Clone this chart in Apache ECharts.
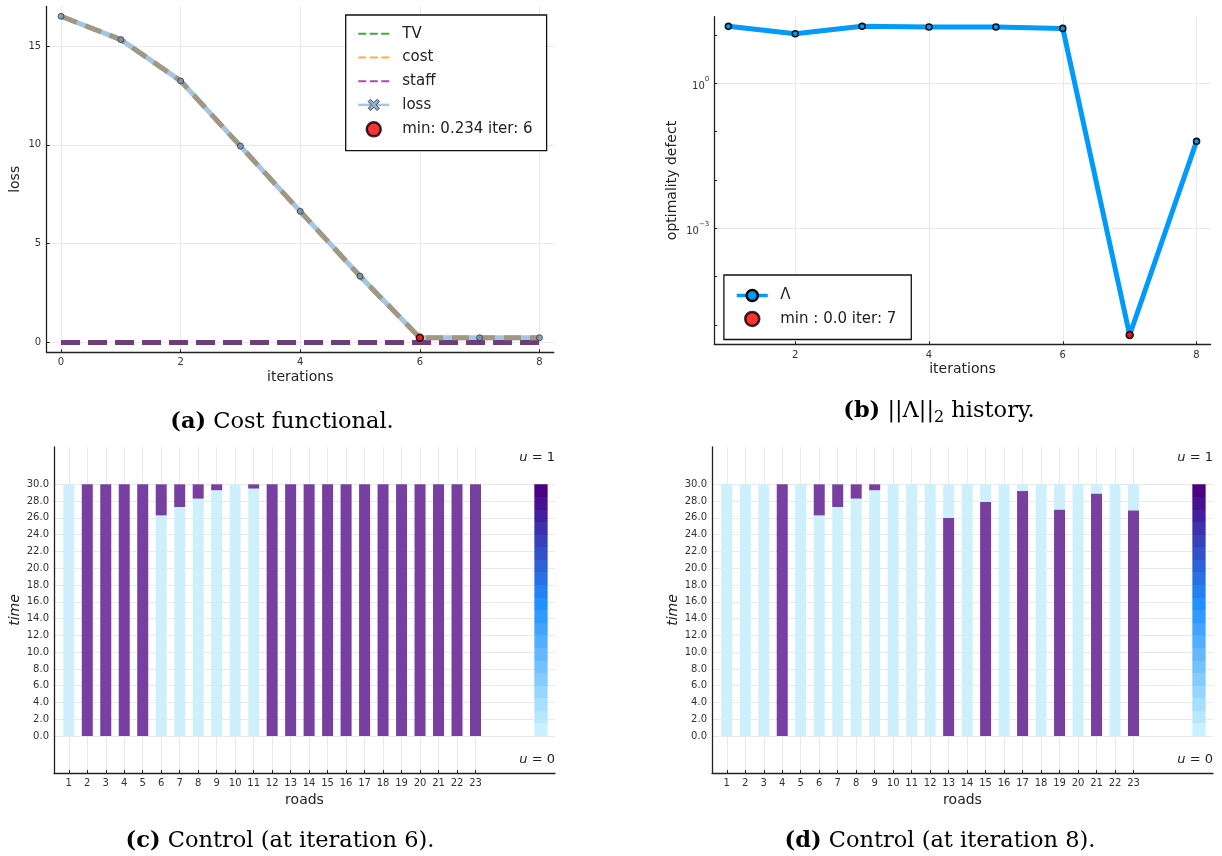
<!DOCTYPE html>
<html><head><meta charset="utf-8">
<script src="https://cdn.jsdelivr.net/npm/echarts@6/dist/echarts.min.js"></script>
<style>html,body{margin:0;padding:0;background:#fff}#c{width:1222px;height:856px}</style>
</head><body><div id="c"></div>
<script>
// ---------- (a) cost functional ----------
const iterA = [0, 1, 2, 3, 4, 5, 6, 7, 8];
const lossA = [16.50, 15.32, 13.23, 9.93, 6.63, 3.35, 0.234, 0.236, 0.236];
const costA = [16.50, 15.32, 13.23, 9.93, 6.63, 3.35, 0.234, 0.236, 0.236];
const tvA = [0, 0, 0, 0, 0, 0, 0, 0, 0];
const staffA = [0, 0, 0, 0, 0, 0, 0, 0, 0];
const minA = [6, 0.234];
const xTicksA = [0, 2, 4, 6, 8];
const yTicksA = [0, 5, 10, 15];

// ---------- (b) ||Lambda|| history ----------
const iterB = [1, 2, 3, 4, 5, 6, 7, 8];
const lambdaB = [15.1, 10.6, 15.1, 14.6, 14.6, 13.7, 6.2e-6, 0.063];
const minB = [7, 6.2e-6];
const xTicksB = [2, 4, 6, 8];
const yLabelTicksB = [1, 0.001];
const yTicksB = [1e-5, 1e-4, 1e-3, 1e-2, 1e-1, 1, 10];

// ---------- (c)/(d) controls: durations of u=0 (first), u=1, u=0 (after) ----------
const roads = [1,2,3,4,5,6,7,8,9,10,11,12,13,14,15,16,17,18,19,20,21,22,23];
const timeTicks = [0,2,4,6,8,10,12,14,16,18,20,22,24,26,28,30];
// iteration 6
const offLowC  = [30,0,0,0,0,26.3,27.3,28.3,29.3,30,29.5,0,0,0,0,0,0,0,0,0,0,0,0];
const onC      = [0,30,30,30,30,3.7,2.7,1.7,0.7,0,0.5,30,30,30,30,30,30,30,30,30,30,30,30];
const offHighC = [0,0,0,0,0,0,0,0,0,0,0,0,0,0,0,0,0,0,0,0,0,0,0];
// iteration 8
const offLowD  = [30,30,30,0,30,26.3,27.3,28.3,29.3,30,30,30,0,30,0,30,0,30,0,30,0,30,0];
const onD      = [0,0,0,30,0,3.7,2.7,1.7,0.7,0,0,0,26.0,0,27.9,0,29.2,0,27.0,0,28.9,0,26.9];
const offHighD = [0,0,0,0,0,0,0,0,0,0,0,0,4.0,0,2.1,0,0.8,0,3.0,0,1.1,0,3.1];
const colorbar = [[26.48, 30]];

// ---------- styles ----------
const FF = 'DejaVu Sans';
const AX = '#222', TXT = '#333', GRID = '#e9e9e9';
const LIGHT = '#CEF0FC', PURPLE = '#763FA0';

function pairs(xs, ys) { return xs.map((x, i) => [x, ys[i]]); }
// value first so that stacking is done on the time dimension
function vpairs(xs, ys) { return xs.map((x, i) => [ys[i], x]); }

function hexToRgb(h) { return [parseInt(h.slice(1,3),16), parseInt(h.slice(3,5),16), parseInt(h.slice(5,7),16)]; }
const cbAnchors = [[0, '#C8F2FF'], [0.53, '#1E90FF'], [1, '#4B0082']];
function cbColor(t) {
  for (let i = 0; i < cbAnchors.length - 1; i++) {
    const [t0, c0] = cbAnchors[i], [t1, c1] = cbAnchors[i+1];
    if (t <= t1) {
      const f = (t - t0) / (t1 - t0), a = hexToRgb(c0), b = hexToRgb(c1);
      return 'rgb(' + a.map((v, k) => Math.round(v + (b[k] - v) * f)).join(',') + ')';
    }
  }
  return cbAnchors[cbAnchors.length-1][1];
}
const cbStops = [];
const NSTEP = 20;
for (let k = 0; k < NSTEP; k++) {
  const col = cbColor(k / (NSTEP - 1));
  cbStops.push({offset: k / NSTEP, color: col}, {offset: (k + 1) / NSTEP, color: col});
}

function xAxisCfg(grid, min, max, ticks, name, gap, margin) {
  return {
    type: 'value', gridIndex: grid, min: min, max: max, name: name,
    nameLocation: 'middle', nameGap: gap,
    nameTextStyle: {fontFamily: FF, fontSize: 14, color: AX},
    axisLine: {show: true, onZero: false, lineStyle: {color: AX, width: 1.3}},
    axisTick: {show: true, inside: true, length: 3, customValues: ticks, lineStyle: {color: AX}},
    axisLabel: {customValues: ticks, fontFamily: FF, fontSize: 10, color: TXT, margin: margin},
    splitLine: {show: true, lineStyle: {color: GRID, width: 1}}
  };
}
function timeAxis(grid) {
  return {
    type: 'value', gridIndex: grid, min: -4.4, max: 34.45, name: 'time', nameLocation: 'middle', nameGap: 32,
    nameTextStyle: {fontFamily: FF, fontSize: 14, color: AX, fontStyle: 'italic'},
    axisLine: {show: true, onZero: false, lineStyle: {color: AX, width: 1.3}},
    axisTick: {show: false, customValues: timeTicks},
    axisLabel: {customValues: timeTicks, fontFamily: FF, fontSize: 10, color: TXT, margin: 5,
      formatter: v => Number(v).toFixed(1)},
    splitLine: {show: true, lineStyle: {color: GRID, width: 1}}
  };
}
function barSeries(name, xi, yi, ys, color, stack) {
  return {name: name, type: 'bar', xAxisIndex: xi, yAxisIndex: yi, data: vpairs(roads, ys),
    encode: {x: 1, y: 0}, stack: stack,
    barWidth: 11, barGap: '-100%', itemStyle: {color: color}};
}

const dashIcon = 'path://M0,0h8v2h-8zM11.5,0h8v2h-8zM23,0h8v2h-8z';
const crossSym = 'path://M2,0L5,3L8,0L10,2L7,5L10,8L8,10L5,7L2,10L0,8L3,5L0,2Z';

const option = {
  animation: false,
  backgroundColor: '#fff',
  textStyle: {fontFamily: FF},
  grid: [
    {left: 46.7, top: 6.4, width: 507.1, height: 345.9, outerBoundsMode: 'none'},
    {left: 714.3, top: 16.7, width: 496.3, height: 327.6, outerBoundsMode: 'none'},
    {left: 54, top: 447, width: 501, height: 326, outerBoundsMode: 'none'},
    {left: 712, top: 447, width: 501, height: 326, outerBoundsMode: 'none'}
  ],
  xAxis: [
    xAxisCfg(0, -0.24, 8.24, xTicksA, 'iterations', 18, 5),
    xAxisCfg(1, 0.79, 8.21, xTicksB, 'iterations', 18.5, 6),
    xAxisCfg(2, 0.2, 27.3, roads, 'roads', 20, 5),
    xAxisCfg(3, 0.2, 27.3, roads, 'roads', 20, 5)
  ],
  yAxis: [
    {
      type: 'value', gridIndex: 0, min: -0.5, max: 17, name: 'loss', nameLocation: 'middle', nameGap: 24.5,
      nameTextStyle: {fontFamily: FF, fontSize: 14, color: AX},
      axisLine: {show: true, onZero: false, lineStyle: {color: AX, width: 1.3}},
      axisTick: {show: true, inside: true, length: 3, customValues: yTicksA, lineStyle: {color: AX}},
      axisLabel: {customValues: yTicksA, fontFamily: FF, fontSize: 10, color: TXT, margin: 5.5},
      splitLine: {show: true, lineStyle: {color: GRID, width: 1}}
    },
    {
      type: 'log', logBase: 10, gridIndex: 1, min: 3.98e-6, max: 23.9, name: 'optimality defect',
      nameLocation: 'middle', nameGap: 35,
      nameTextStyle: {fontFamily: FF, fontSize: 14, color: AX},
      axisLine: {show: true, onZero: false, lineStyle: {color: AX, width: 1.3}},
      axisTick: {show: true, inside: true, length: 3, customValues: yTicksB, lineStyle: {color: AX}},
      axisLabel: {
        customValues: yLabelTicksB, margin: 5,
        formatter: function (v) {
          const e = Math.round(Math.log10(v));
          return '{b|10}{s|' + (e < 0 ? '\u2212' + (-e) : e) + '}';
        },
        rich: {
          b: {fontFamily: FF, fontSize: 10, color: TXT, lineHeight: 16, verticalAlign: 'bottom'},
          s: {fontFamily: FF, fontSize: 7, color: TXT, lineHeight: 9, verticalAlign: 'top'}
        }
      },
      splitLine: {show: false}
    },
    {
      type: 'log', logBase: 10, gridIndex: 1, min: 3.98e-6, max: 23.9,
      axisLine: {show: false, onZero: false},
      axisTick: {show: false, customValues: yLabelTicksB},
      axisLabel: {show: false, customValues: yLabelTicksB},
      splitLine: {show: true, lineStyle: {color: GRID, width: 1}}
    },
    timeAxis(2),
    timeAxis(3)
  ],
  legend: [
    {
      orient: 'vertical', left: 345.7, top: 15, itemWidth: 31, itemHeight: 14, itemGap: 8.7,
      padding: [11.3, 14, 13, 11.3], borderColor: '#111', borderWidth: 1.3, backgroundColor: '#fff',
      selectedMode: false,
      textStyle: {fontFamily: FF, fontSize: 15, color: '#222', lineHeight: 14, padding: [0, 0, 0, 8]},
      data: [
        {name: 'TV', icon: dashIcon, itemStyle: {color: '#44A845', borderWidth: 0}},
        {name: 'cost', icon: dashIcon, itemStyle: {color: '#FFAE55', borderWidth: 0}},
        {name: 'staff', icon: dashIcon, itemStyle: {color: '#A350A9', borderWidth: 0}},
        {name: 'loss', itemStyle: {color: '#93AFCB', borderColor: '#3a4a5a', borderWidth: 1},
          lineStyle: {color: '#A6C6E0', width: 2.5, type: 'solid'}},
        {name: 'min: 0.234 iter: 6', icon: 'circle', itemStyle: {color: '#ff0000', borderColor: '#000', borderWidth: 2.5}}
      ]
    },
    {
      orient: 'vertical', left: 723.9, top: 275, itemWidth: 31, itemHeight: 14, itemGap: 7.7,
      padding: [13, 15, 12.3, 11.1], borderColor: '#111', borderWidth: 1.3, backgroundColor: '#fff',
      selectedMode: false,
      textStyle: {fontFamily: FF, fontSize: 15, color: '#222', lineHeight: 14, padding: [0, 0, 0, 7.5]},
      data: [
        {name: '\u039B', itemStyle: {color: '#009AFA', borderColor: '#000', borderWidth: 2.5},
          lineStyle: {color: '#009AFA', width: 3.5}},
        {name: 'min : 0.0 iter: 7', icon: 'circle', itemStyle: {color: '#ff0000', borderColor: '#000', borderWidth: 2.5}}
      ]
    }
  ],
  series: [
    // (a)
    {name: 'TV', type: 'line', xAxisIndex: 0, yAxisIndex: 0, data: pairs(iterA, tvA), symbol: 'none', z: 2,
      color: '#44A845', lineStyle: {color: '#44A845', width: 5, type: [19, 8]}},
    {name: 'loss', type: 'line', xAxisIndex: 0, yAxisIndex: 0, data: pairs(iterA, lossA), z: 2,
      symbol: crossSym, showSymbol: false, color: '#A6C6E0',
      itemStyle: {color: '#93AFCB'}, lineStyle: {color: '#A6C6E0', width: 5}},
    {name: 'staff', type: 'line', xAxisIndex: 0, yAxisIndex: 0, data: pairs(iterA, staffA), symbol: 'none', z: 3,
      color: '#6F3D7E', lineStyle: {color: '#6F3D7E', width: 5, type: [19, 8]}},
    {name: 'cost', type: 'line', xAxisIndex: 0, yAxisIndex: 0, data: pairs(iterA, costA), symbol: 'none', z: 3,
      color: '#A19883', lineStyle: {color: '#A19883', width: 5, type: [17, 9]}},
    {name: 'loss points', type: 'scatter', xAxisIndex: 0, yAxisIndex: 0, data: pairs(iterA, lossA), z: 4,
      symbol: 'circle', symbolSize: 6, itemStyle: {color: '#7391AE', borderColor: '#2c3a48', borderWidth: 1}},
    {name: 'min: 0.234 iter: 6', type: 'scatter', xAxisIndex: 0, yAxisIndex: 0, data: [minA], z: 5,
      symbol: 'circle', symbolSize: 7, itemStyle: {color: '#ff0000', borderColor: '#000', borderWidth: 1.5}},
    // (b)
    {name: '\u039B', type: 'line', xAxisIndex: 1, yAxisIndex: 1, data: pairs(iterB, lambdaB), z: 3,
      symbol: 'circle', symbolSize: 6, showSymbol: true, color: '#009AFA',
      lineStyle: {color: '#009AFA', width: 5},
      itemStyle: {color: '#009AFA', borderColor: '#111', borderWidth: 1.6}},
    {name: 'min : 0.0 iter: 7', type: 'scatter', xAxisIndex: 1, yAxisIndex: 1, data: [minB], z: 5,
      symbol: 'circle', symbolSize: 7, itemStyle: {color: '#ff0000', borderColor: '#000', borderWidth: 1.5}},
    // (c)
    {name: 'colorbar c', type: 'bar', xAxisIndex: 2, yAxisIndex: 3, data: colorbar, barWidth: 13.3, barGap: '-100%',
      itemStyle: {color: new echarts.graphic.LinearGradient(0, 1, 0, 0, cbStops)}},
    barSeries('u0 first c', 2, 3, offLowC, LIGHT, 'c'),
    barSeries('u1 c', 2, 3, onC, PURPLE, 'c'),
    barSeries('u0 after c', 2, 3, offHighC, LIGHT, 'c'),
    // (d)
    {name: 'colorbar d', type: 'bar', xAxisIndex: 3, yAxisIndex: 4, data: colorbar, barWidth: 13.3, barGap: '-100%',
      itemStyle: {color: new echarts.graphic.LinearGradient(0, 1, 0, 0, cbStops)}},
    barSeries('u0 first d', 3, 4, offLowD, LIGHT, 'd'),
    barSeries('u1 d', 3, 4, onD, PURPLE, 'd'),
    barSeries('u0 after d', 3, 4, offHighD, LIGHT, 'd')
  ],
  graphic: (function () {
    const serif = 'DejaVu Serif';
    const FS = 22.5;
    const cap = (x, y, tag, rest, extraRich) => ({
      type: 'text', x: x, y: y, silent: true,
      style: {
        text: '{b|' + tag + '}' + rest, align: 'center', verticalAlign: 'middle',
        fontFamily: serif, fontSize: FS, fill: '#000',
        rich: Object.assign({
          b: {fontFamily: serif, fontSize: FS, fontWeight: 'bold', fill: '#000', lineHeight: 30},
          n: {fontFamily: serif, fontSize: FS, fill: '#000', lineHeight: 30}
        }, extraRich || {})
      }
    });
    const u = (x, y, v) => ({
      type: 'text', x: x, y: y, silent: true,
      style: {
        text: '{i|u} = ' + v, align: 'right', verticalAlign: 'middle',
        fontFamily: FF, fontSize: 13, fill: '#222',
        rich: {i: {fontFamily: FF, fontSize: 13, fontStyle: 'italic', fill: '#222'}}
      }
    });
    return [
      cap(282, 422, '(a)', '{n| Cost functional.}'),
      cap(939, 411, '(b)', '{n| ||\u039B||}{s|2}{n| history.}',
        {s: {fontFamily: serif, fontSize: 16, fill: '#000', lineHeight: 22, verticalAlign: 'bottom'}}),
      cap(280, 841, '(c)', '{n| Control (at iteration 6).}'),
      cap(940, 841, '(d)', '{n| Control (at iteration 8).}'),
      u(555, 458, 1), u(555, 760, 0),
      u(1213, 458, 1), u(1213, 760, 0)
    ];
  })()
};

const chart = echarts.init(document.getElementById('c'), null, {renderer: 'canvas'});
chart.setOption(option);
</script>
</body></html>
